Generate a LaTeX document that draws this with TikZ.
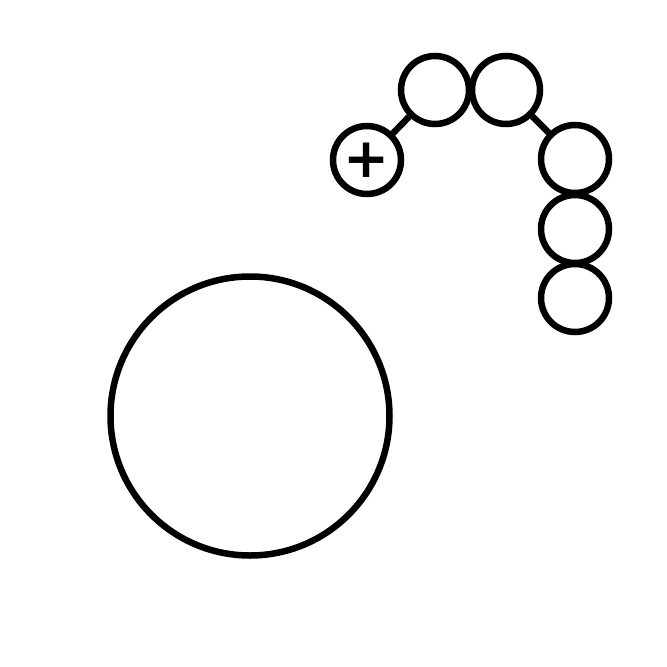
\documentclass[tikz,border=0pt]{standalone}
\usepackage{fontspec}
\newfontfamily\plusfont{DejaVu Sans}
\usepackage{tikz}

\begin{document}
\begin{tikzpicture}[x=1pt, y=-1pt, line width=6.5pt,
  bead/.style={draw, circle, minimum size=68pt, inner sep=0pt}]
\useasboundingbox (0,0) rectangle (667,667);
\node[bead, font=\plusfont\bfseries\fontsize{55}{55}\selectfont] (head) at (367,160) {+};
\node[bead] (b1) at (435,90) {};
\node[bead] (b2) at (506,90) {};
\node[bead] (b3) at (575,159) {};
\node[bead] (b4) at (575,229) {};
\node[bead] (b5) at (575,298) {};
\node[bead, minimum size=279pt] (ball) at (250,416) {};
\draw (head)--(b1);
\draw (b2)--(b3);
\end{tikzpicture}
\end{document}
